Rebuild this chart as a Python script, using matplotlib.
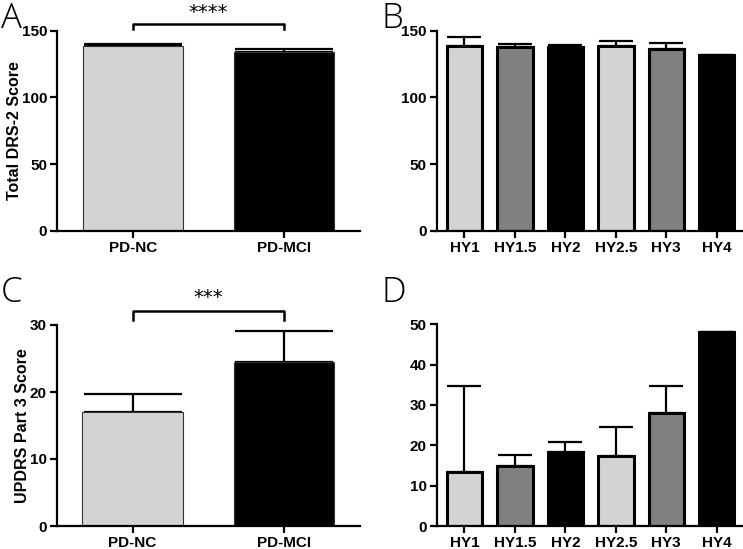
import numpy as np
import matplotlib.pyplot as plt

# panel A / C: cognitive groups
groups = ["PD-NC", "PD-MCI"]
drs_mean = [138.8, 134.0]
drs_err = [1.5, 2.5]
updrs_mean = [17.0, 24.5]
updrs_err = [2.7, 4.6]
group_colors = ["#d3d3d3", "#000000"]

# panel B / D: Hoehn & Yahr stages
stages = ["HY1", "HY1.5", "HY2", "HY2.5", "HY3", "HY4"]
hy_drs_mean = [138.8, 137.6, 137.6, 138.3, 136.0, 131.8]
hy_drs_err = [6.7, 2.7, 1.9, 4.2, 5.0, 0.0]
hy_updrs_mean = [13.5, 14.8, 18.3, 17.4, 27.9, 48.0]
hy_updrs_err = [21.1, 2.7, 2.6, 7.1, 6.7, 0.0]
stage_colors = ["#d3d3d3", "#808080", "#000000", "#d3d3d3", "#808080", "#000000"]

plt.rcParams["font.family"] = ["Liberation Sans", "DejaVu Sans"]

W, H = 743, 549
fig = plt.figure(figsize=(W / 100, H / 100), dpi=100)


def frac(x0, y0, x1, y1):
    return [x0 / W, 1 - y1 / H, (x1 - x0) / W, (y1 - y0) / H]


def style(ax, ylim, yticks):
    for s in ["top", "right"]:
        ax.spines[s].set_visible(False)
    for s in ["left", "bottom"]:
        ax.spines[s].set_linewidth(1.6)
    ax.set_ylim(*ylim)
    ax.set_yticks(yticks)
    ax.tick_params(axis="both", width=1.6, length=5, labelsize=11, pad=2)
    for lab in ax.get_xticklabels() + ax.get_yticklabels():
        lab.set_fontweight("bold")


def bars(ax, labels, means, errs, colors, width, capsize, edge_lw, edge_col):
    x = np.arange(len(labels))
    errs = np.asarray(errs)
    ax.errorbar(x, means, yerr=[np.zeros_like(errs), errs], fmt="none",
                ecolor="black", elinewidth=1.6, capsize=capsize, capthick=1.6,
                zorder=1)
    ax.bar(x, means, width=width, color=colors, edgecolor=edge_col,
           linewidth=edge_lw, zorder=2)
    ax.set_xticks(x)
    ax.set_xticklabels(labels)


def bracket(ax, y_top, drop, stars):
    ax.plot([0, 0, 1, 1], [y_top - drop, y_top, y_top, y_top - drop],
            color="black", lw=1.8, clip_on=False)
    ax.text(0.5, y_top + drop * 0.4, stars, ha="center", va="bottom",
            fontsize=14, family="DejaVu Sans")


# A
axA = fig.add_axes(frac(57, 30.7, 360, 231))
bars(axA, groups, drs_mean, drs_err, group_colors, 0.66, 35, 0.8, "#333333")
axA.set_xlim(-0.5, 1.5)
style(axA, (0, 150), [0, 50, 100, 150])
axA.set_ylabel("Total DRS-2 Score", fontsize=11.5, fontweight="bold", labelpad=0)
bracket(axA, 150 + 5, 3.8, "****")

# B
axB = fig.add_axes(frac(436.7, 30.7, 742, 231))
bars(axB, stages, hy_drs_mean, hy_drs_err, stage_colors, 0.7, 12, 2.2, "black")
axB.set_xlim(-0.55, 5.5)
style(axB, (0, 150), [0, 50, 100, 150])

# C
axC = fig.add_axes(frac(56.7, 325, 360, 526))
bars(axC, groups, updrs_mean, updrs_err, group_colors, 0.66, 35, 0.8, "#333333")
axC.set_xlim(-0.5, 1.5)
style(axC, (0, 30), [0, 10, 20, 30])
axC.set_ylabel("UPDRS Part 3 Score", fontsize=11.5, fontweight="bold", labelpad=0)
bracket(axC, 30 + 2.1, 1.4, "***")

# D
axD = fig.add_axes(frac(436.7, 324.3, 742, 526))
bars(axD, stages, hy_updrs_mean, hy_updrs_err, stage_colors, 0.7, 12, 2.2, "black")
axD.set_xlim(-0.55, 5.5)
style(axD, (0, 50), [0, 10, 20, 30, 40, 50])

# panel letters
for letter, (px, py) in zip("ABCD", [(1, 1), (382, 1), (1, 276), (382, 276)]):
    fig.text(px / W, 1 - py / H, letter, fontsize=25,
             family=["Open Sans", "DejaVu Sans"], fontweight="light",
             ha="left", va="top")

fig.savefig("out.png", dpi=100)
